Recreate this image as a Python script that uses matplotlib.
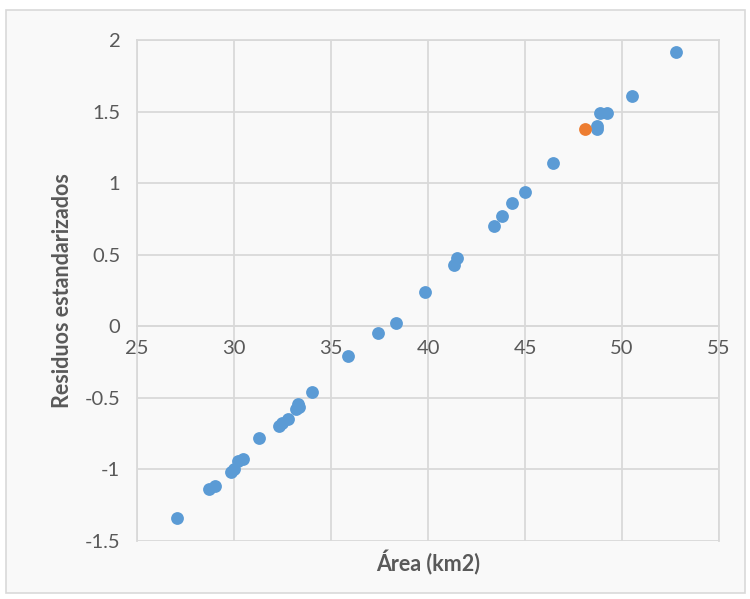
import matplotlib
matplotlib.use("Agg")
from matplotlib import pyplot as plt
from matplotlib.patches import Rectangle

# standardized residuals vs area
area = [27.08, 28.70, 29.02, 29.82, 29.99, 30.21, 30.47, 31.31, 32.32, 32.45,
        32.80, 33.22, 33.30, 33.35, 34.03, 35.87, 37.43, 38.33, 39.86, 41.35,
        41.47, 43.38, 43.82, 44.34, 44.98, 46.42, 48.69, 48.72, 48.86, 49.21,
        50.51, 52.77]
residuos = [-1.336, -1.135, -1.114, -1.02, -1.00, -0.94, -0.925, -0.78, -0.696, -0.675,
            -0.649, -0.575, -0.545, -0.565, -0.46, -0.21, -0.049, 0.022, 0.236, 0.43,
            0.477, 0.699, 0.769, 0.862, 0.937, 1.143, 1.38, 1.40, 1.493, 1.493,
            1.607, 1.918]
area_dest = [48.10]
residuos_dest = [1.376]

xticks = [25, 30, 35, 40, 45, 50, 55]
yticks = [-1.5, -1, -0.5, 0, 0.5, 1, 1.5, 2]

plt.rcParams["font.family"] = ["Lato", "DejaVu Sans"]

fig = plt.figure(figsize=(7.5, 5.99), dpi=100)
fig.patch.set_facecolor("white")
fig.patches.append(Rectangle((0.008, 0.01), 0.985, 0.973, transform=fig.transFigure,
                             facecolor="#f9f9f9", edgecolor="#d9d9d9", lw=1.2, zorder=-5))

ax = fig.add_axes([0.1827, 0.0968, 0.7760, 0.8365])
ax.set_zorder(2)
ax.set_facecolor("none")
grid = "#d9d9d9"
ax.set_xlim(25, 55)
ax.set_ylim(-1.5, 2)
ax.set_xticks(xticks)
ax.set_yticks(yticks)
ax.set_yticklabels([("%g" % v) for v in yticks])
ax.grid(True, color=grid, lw=1.3)
ax.set_axisbelow(True)
for s in ["top", "right", "left", "bottom"]:
    ax.spines[s].set_color(grid)
    ax.spines[s].set_linewidth(1.3)
ax.spines["bottom"].set_position(("data", 0))
ax.tick_params(length=0, labelsize=14.5, labelcolor="#595959")
ax.tick_params(axis="x", pad=10)
ax.tick_params(axis="y", pad=12)

ax.scatter(area, residuos, s=85, color="#5b9bd5", zorder=3, linewidths=0)
ax.scatter(area_dest, residuos_dest, s=85, color="#ed7d31", zorder=3, linewidths=0)

fig.text(0.083, 0.515, "Residuos estandarizados", rotation=90, ha="center", va="center",
         fontsize=15.5, fontweight="bold", color="#595959", zorder=3)
fig.text(0.571, 0.06, "Área (km2)", ha="center", va="center",
         fontsize=15.5, fontweight="bold", color="#595959", zorder=3)

fig.savefig("out.png", dpi=100)
